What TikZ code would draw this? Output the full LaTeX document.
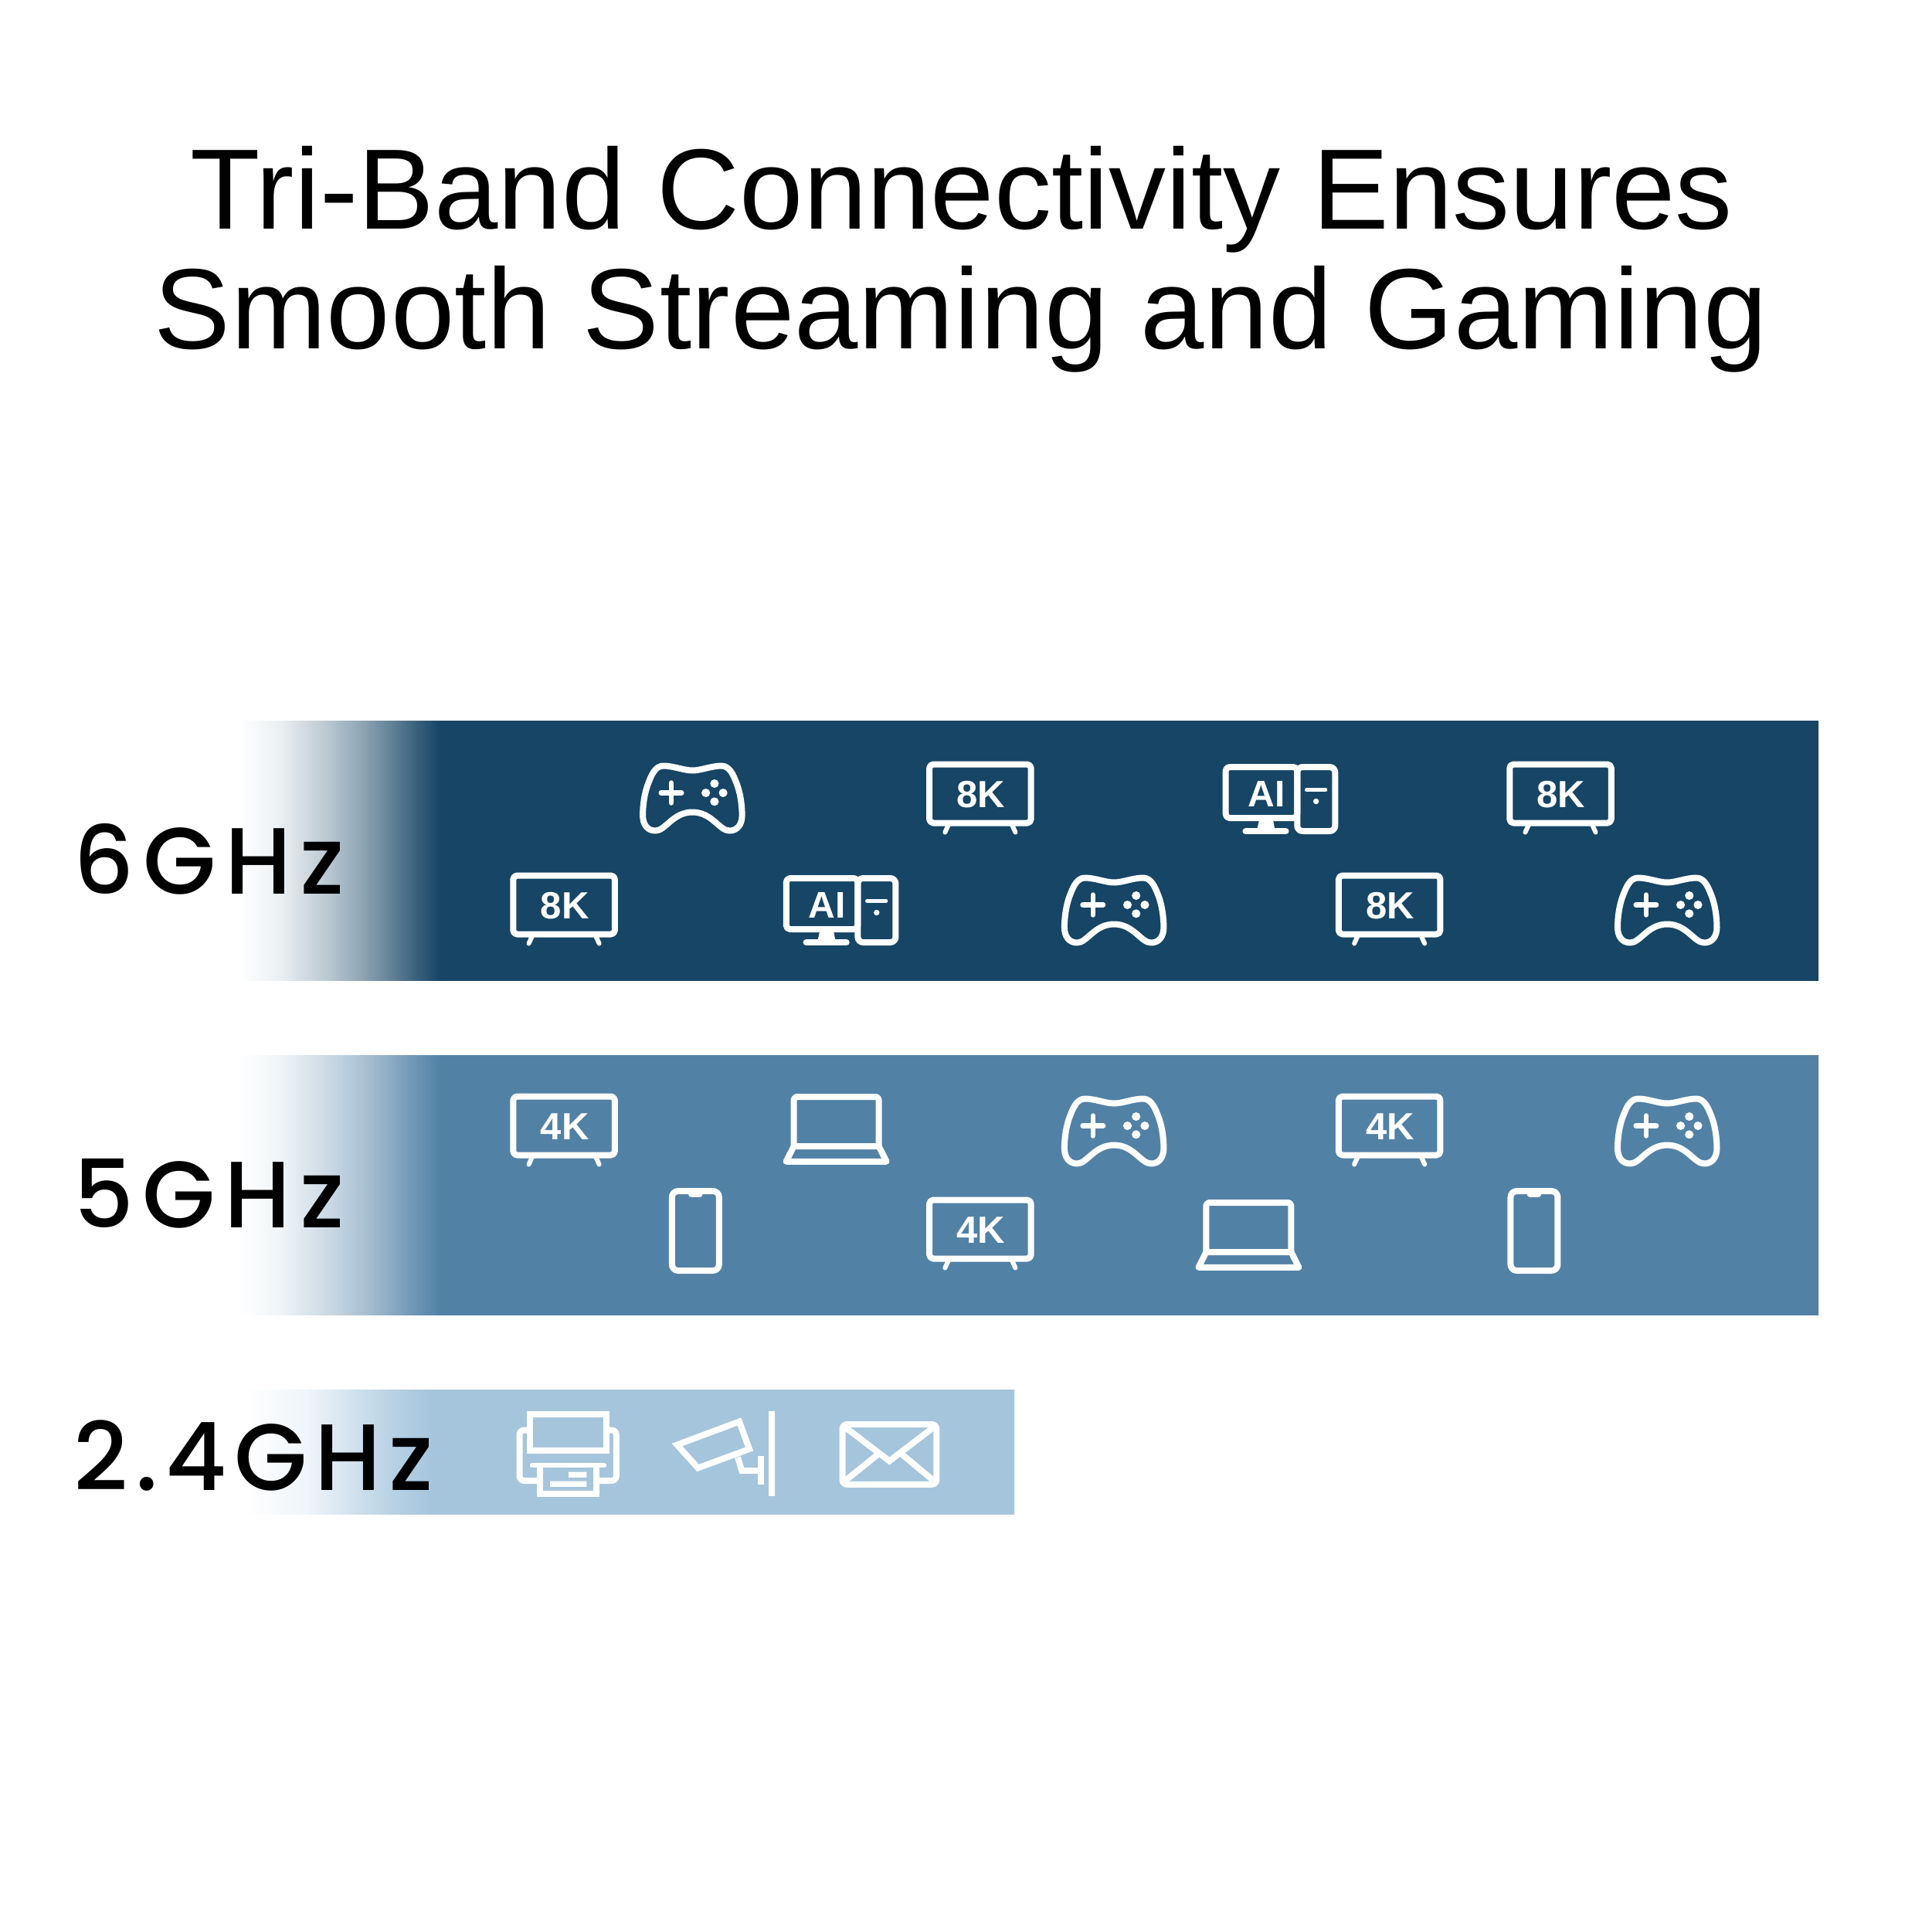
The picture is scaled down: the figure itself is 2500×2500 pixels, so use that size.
\documentclass[tikz,border=0pt]{standalone}
\usepackage{fontspec}
\setmainfont{Liberation Sans}
\newfontfamily\labelfont[LetterSpace=9.5]{Poppins Medium}
\newfontfamily\labelfontb[LetterSpace=8]{Poppins Medium}
\definecolor{bandA}{HTML}{164565}
\definecolor{bandB}{HTML}{5281A6}
\definecolor{bandC}{HTML}{A5C5DD}
\pgfdeclarehorizontalshading{fadeA}{100bp}{color(0bp)=(white);color(25bp)=(white);color(26.3bp)=(bandA!8!white);color(27.85bp)=(bandA!30!white);color(28.85bp)=(bandA!47!white);color(29.7bp)=(bandA!64!white);color(30.65bp)=(bandA!85!white);color(31.4bp)=(bandA);color(100bp)=(bandA)}
\pgfdeclarehorizontalshading{fadeB}{100bp}{color(0bp)=(white);color(25bp)=(white);color(26.3bp)=(bandB!8!white);color(27.85bp)=(bandB!30!white);color(28.85bp)=(bandB!47!white);color(29.7bp)=(bandB!64!white);color(30.65bp)=(bandB!85!white);color(31.4bp)=(bandB);color(100bp)=(bandB)}
\pgfdeclarehorizontalshading{fadeC}{100bp}{color(0bp)=(white);color(25bp)=(white);color(29.06bp)=(bandC!18!white);color(31.5bp)=(bandC!45!white);color(34.6bp)=(bandC!80!white);color(37.3bp)=(bandC);color(100bp)=(bandC)}
\tikzset{
  x=1pt,y=-1pt,
  glyph/.style={draw=white,line width=8pt,line join=round,line cap=round},
  titletext/.style={font=\fontsize{148}{155}\selectfont,text=black,inner sep=0pt,anchor=base},
  bandlabel/.style={font=\labelfont\fontsize{122}{130}\selectfont,text=black,inner sep=0pt,anchor=base west},
  icontext/.style={font=\bfseries\fontsize{49}{50}\selectfont,text=white,inner sep=0pt,anchor=base},
  gamepad/.pic={
    \begin{scope}[xscale=1.02]
    \draw[glyph] (0,-36) .. controls (-11,-36) and (-24,-42) .. (-37,-42) .. controls (-47,-42) and (-52,-30) .. (-55,-22) .. controls (-61,-8) and (-63,10) .. (-63,22) .. controls (-63,34) and (-57,42) .. (-47,42) .. controls (-34,42) and (-25,18) .. (0,18) .. controls (25,18) and (34,42) .. (47,42) .. controls (57,42) and (63,34) .. (63,22) .. controls (63,10) and (61,-8) .. (55,-22) .. controls (52,-30) and (47,-42) .. (37,-42) .. controls (24,-42) and (11,-36) .. (0,-36) -- cycle;
    \draw[glyph,line width=6.5pt] (-39.8,-7) -- (-13.8,-7) (-26.8,-20) -- (-26.8,6);
    \fill[white] (28,-19) circle (5.5) (17,-7) circle (5.5) (39,-7) circle (5.5) (28,4.3) circle (5.5);
    \end{scope}
  },
  tvicon/.pic={
    \begin{scope}[xscale=1.012]
    \draw[glyph,rounded corners=5pt] (-65,-38) rectangle (65,38);
    \draw[glyph,line width=6pt] (-40.5,40) -- (-45,50) (40.5,40) -- (45,50);
    \end{scope}
    \node[icontext] (-label) at (1,18) {#1};
  },
  computer/.pic={
    \begin{scope}[xscale=1.012]
    \draw[glyph,rounded corners=5pt] (-70,-41.5) rectangle (21.5,24.5);
    \draw[glyph,rounded corners=7pt] (21.5,-41.5) rectangle (70,41.5);
    \fill[white] (-26.8,26) -- (-9.6,26) -- (-7,40) -- (-30,40) -- cycle;
    \draw[glyph] (-44.5,41.7) -- (7,41.7);
    \draw[glyph,line width=5.5pt] (33.7,-12) -- (57.4,-12);
    \fill[white] (45.6,3) circle (3.7);
    \end{scope}
    \node[icontext,font=\bfseries\fontsize{48}{50}\selectfont] (-label) at (-18,10) {AI};
  },
  laptop/.pic={
    \draw[glyph,rounded corners=4pt] (-55,22.5) -- (-55,-41.5) -- (55,-41.5) -- (55,22.5);
    \draw[glyph] (-55,22.5) -- (55,22.5) -- (65,42.3) -- (-65,42.3) -- cycle;
  },
  phone/.pic={
    \draw[glyph,rounded corners=8pt] (-30.5,-51.5) rectangle (30.5,51.5);
    \fill[white,rounded corners=3pt] (-9,-50) rectangle (9,-43.7);
  },
  printer/.pic={
    \draw[glyph,line cap=butt,line join=miter] (686,1829) rectangle (784.5,1876.5);
    \draw[glyph,rounded corners=6pt,line cap=butt] (686,1850) -- (672.5,1850) -- (672.5,1915.5) -- (698,1915.5);
    \draw[glyph,rounded corners=6pt,line cap=butt] (784.5,1850) -- (797.8,1850) -- (797.8,1915.5) -- (772,1915.5);
    \draw[glyph,line width=6.5pt] (689,1895.7) -- (782,1895.7);
    \draw[glyph,line cap=butt,line join=miter] (698.5,1895.7) -- (698.5,1932) -- (771.5,1932) -- (771.5,1895.7);
    \fill[white] (736,1904) rectangle (759.4,1911.3) (712,1916) rectangle (759.4,1923.3);
  },
  cctv/.pic={
    \draw[glyph,line cap=butt,line join=miter] (876.5,1869) -- (957,1839) -- (970,1874.5) -- (903.5,1899) -- cycle;
    \draw[glyph,line cap=butt,line join=miter] (955,1885) -- (960.3,1902.7) -- (984,1902.7);
    \draw[glyph,line cap=butt,line width=8pt] (985.2,1883.3) -- (985.2,1920.7);
    \draw[glyph,line cap=butt,line width=8pt] (999.4,1825.7) -- (999.4,1935.7);
  },
  envelope/.pic={
    \draw[glyph,rounded corners=6pt] (1090.5,1842.5) rectangle (1212.3,1920.3);
    \draw[glyph,line cap=butt,line join=miter] (1094.7,1846.7) -- (1151.3,1890) -- (1208,1846.7);
    \draw[glyph,line cap=butt] (1136.2,1881.7) -- (1094.7,1915) (1168,1881.7) -- (1208,1915);
  }
}
\begin{document}
\begin{tikzpicture}
\useasboundingbox (0,0) rectangle (2500,2500);
\fill[white] (0,0) rectangle (2500,2500);
% bands
\shade[shading=fadeA] (308,933.5) rectangle (2354,1269.5);
\shade[shading=fadeB] (308,1366.5) rectangle (2354,1702.5);
\shade[shading=fadeC] (317,1799.5) rectangle (1313,1960.5);
% title
\node[titletext] (title1) at (1245,296) {\addfontfeature{LetterSpace=0.08}Tri-Band Connectivity Ensures};
\node[titletext] (title2) at (1244,451) {\addfontfeature{LetterSpace=0.45}Smooth Streaming and Gaming};
% labels
\node[bandlabel] (six) at (95,1157) {6GHz};
\node[bandlabel] (five) at (95,1589) {5GHz};
\node[bandlabel,font=\labelfontb\fontsize{122}{130}\selectfont] (two) at (95,1929) {2.4GHz};
\begin{scope}[shift={(0,1.5)},xscale=1.0015]
% 6 GHz icons
\pic (g1) at (895,1032) {gamepad};
\pic (t1) at (1267,1026) {tvicon={8K}};
\pic (c1) at (1655,1033) {computer};
\pic (t2) at (2017,1026) {tvicon={8K}};
\pic (t3) at (729,1170) {tvicon={8K}};
\pic (c2) at (1087,1177) {computer};
\pic (g2) at (1440,1177) {gamepad};
\pic (t4) at (1796,1170) {tvicon={8K}};
\pic (g3) at (2155,1177) {gamepad};
% 5 GHz icons
\pic (t5) at (729,1456) {tvicon={4K}};
\pic (l1) at (1081,1460) {laptop};
\pic (g4) at (1440,1463) {gamepad};
\pic (t6) at (1796,1456) {tvicon={4K}};
\pic (g5) at (2155,1463) {gamepad};
\pic (p1) at (899,1592) {phone};
\pic (t7) at (1267,1590) {tvicon={4K}};
\pic (l2) at (1614,1597) {laptop};
\pic (p2) at (1983,1592) {phone};
% 2.4 GHz icons
\pic {printer};
\pic {cctv};
\pic {envelope};
\end{scope}
\end{tikzpicture}
\end{document}
